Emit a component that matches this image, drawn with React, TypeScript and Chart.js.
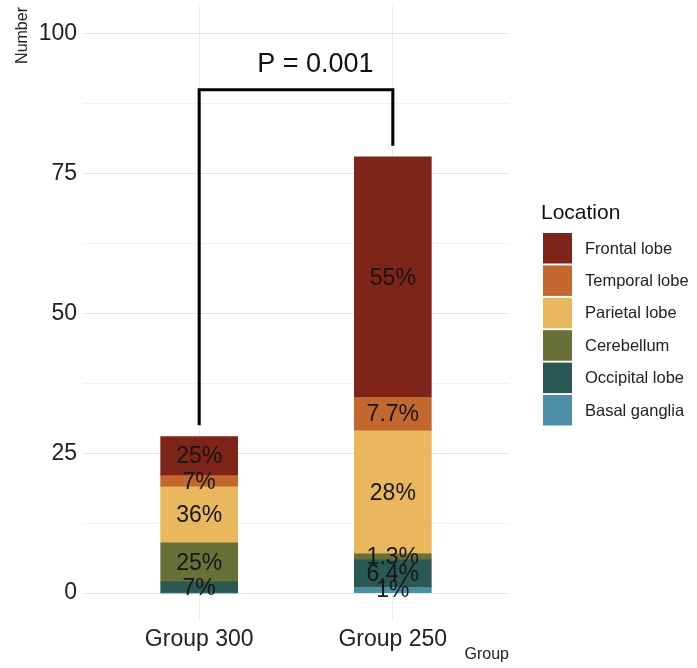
import React, { useEffect, useRef } from "react";
import { Chart, registerables } from "chart.js";

Chart.register(...registerables);

// Groups on the x axis (positions 1 and 2 on a linear scale)
const groups = ["Group 300", "Group 250"];
const groupPos = [1, 2];

// Lesion locations, listed top of the stack first
const locations = [
  "Frontal lobe",
  "Temporal lobe",
  "Parietal lobe",
  "Cerebellum",
  "Occipital lobe",
  "Basal ganglia",
];
const locationColors = ["#7e2418", "#c3672f", "#e9b75e", "#687038", "#2a5852", "#4b8ea6"];

// Counts per location: [Group 300, Group 250]
const frontal = [7, 43];
const temporal = [2, 6];
const parietal = [10, 22];
const cerebellum = [7, 1];
const occipital = [2, 5];
const basal = [0, 1];

// Percent labels per location: [Group 300, Group 250]
const frontalPct = ["25%", "55%"];
const temporalPct = ["7%", "7.7%"];
const parietalPct = ["36%", "28%"];
const cerebellumPct = ["25%", "1.3%"];
const occipitalPct = ["7%", "6.4%"];
const basalPct = ["", "1%"];

const yTicks = [0, 25, 50, 75, 100];
const yMinorTicks = [12.5, 37.5, 62.5, 87.5];

// Significance bracket
const bracketLeftY = 30;
const bracketTopY = 90;
const bracketRightY = 80;
const pLabel = "P = 0.001";

const FONT = "'Liberation Sans', Arial, sans-serif";

export default function App() {
  const canvasRef = useRef<HTMLCanvasElement | null>(null);

  useEffect(() => {
    document.body.style.margin = "0";
    const canvas = canvasRef.current;
    if (!canvas) return;

    const seriesCounts = [frontal, temporal, parietal, cerebellum, occipital, basal];
    const seriesPct = [frontalPct, temporalPct, parietalPct, cerebellumPct, occipitalPct, basalPct];

    // Stack order: bottom = Basal ganglia ... top = Frontal lobe
    const order = [5, 4, 3, 2, 1, 0];
    const datasets = order.map((i) => ({
      label: locations[i],
      data: groupPos.map((x, g) => ({ x, y: seriesCounts[i][g] })),
      backgroundColor: locationColors[i],
      borderWidth: 0,
      barThickness: 77,
      pctLabels: seriesPct[i],
    }));

    const overlay = {
      id: "overlay",
      afterDatasetsDraw(chart: any) {
        const ctx = chart.ctx;
        const xs = chart.scales.x;
        const ys = chart.scales.y;

        // Percent labels centred in each segment
        ctx.save();
        ctx.font = `23px ${FONT}`;
        ctx.fillStyle = "#161616";
        ctx.textAlign = "center";
        ctx.textBaseline = "middle";
        chart.data.datasets.forEach((ds: any, di: number) => {
          const meta = chart.getDatasetMeta(di);
          meta.data.forEach((bar: any, gi: number) => {
            const lbl = ds.pctLabels[gi];
            if (!lbl) return;
            const cy = (bar.y + bar.base) / 2;
            ctx.fillText(lbl, bar.x, cy + 1);
          });
        });
        ctx.restore();

        // Bracket
        const x1 = xs.getPixelForValue(groupPos[0]);
        const x2 = xs.getPixelForValue(groupPos[1]);
        ctx.save();
        ctx.strokeStyle = "#000";
        ctx.lineWidth = 3;
        ctx.lineJoin = "miter";
        ctx.beginPath();
        ctx.moveTo(x1, ys.getPixelForValue(bracketLeftY));
        ctx.lineTo(x1, ys.getPixelForValue(bracketTopY));
        ctx.lineTo(x2, ys.getPixelForValue(bracketTopY));
        ctx.lineTo(x2, ys.getPixelForValue(bracketRightY));
        ctx.stroke();

        ctx.font = `27px ${FONT}`;
        ctx.fillStyle = "#111";
        ctx.textAlign = "center";
        ctx.textBaseline = "middle";
        ctx.fillText(pLabel, xs.getPixelForValue(1.6), ys.getPixelForValue(94.5));
        ctx.restore();
      },
      afterDraw(chart: any) {
        const ctx = chart.ctx;
        const area = chart.chartArea;
        ctx.save();
        // Axis titles
        ctx.fillStyle = "#222";
        ctx.font = `16px ${FONT}`;
        ctx.textAlign = "right";
        ctx.textBaseline = "middle";
        ctx.fillText("Group", area.right, 655);
        ctx.save();
        ctx.translate(23, 7);
        ctx.rotate(-Math.PI / 2);
        ctx.textAlign = "right";
        ctx.textBaseline = "middle";
        ctx.fillText("Number", 0, 0);
        ctx.restore();

        // Legend
        const lx = 543;
        ctx.fillStyle = "#111";
        ctx.font = `21px ${FONT}`;
        ctx.textAlign = "left";
        ctx.textBaseline = "middle";
        ctx.fillText("Location", 541, 213);
        ctx.font = `16.5px ${FONT}`;
        locations.forEach((name, i) => {
          const top = 233 + i * 32.4;
          ctx.fillStyle = locationColors[i];
          ctx.fillRect(lx, top, 29, 30.5);
          ctx.fillStyle = "#222";
          ctx.fillText(name, 585, top + 16);
        });
        ctx.restore();
      },
    };

    const chart = new Chart(canvas, {
      type: "bar",
      data: { datasets } as any,
      options: {
        animation: false,
        responsive: false,
        maintainAspectRatio: false,
        layout: { padding: { left: 0, right: 697 - 509, top: 6, bottom: 0 } },
        plugins: {
          legend: { display: false },
          tooltip: { enabled: false },
        },
        scales: {
          x: {
            type: "linear",
            stacked: true,
            offset: false,
            min: 0.4,
            max: 2.6,
            border: { display: false },
            grid: { color: "#ebebeb", lineWidth: 1, drawTicks: false, offset: false },
            afterBuildTicks: (scale: any) => {
              scale.ticks = groupPos.map((v) => ({ value: v }));
            },
            afterFit: (scale: any) => {
              scale.height = 47;
              scale.paddingLeft = 0;
              scale.paddingRight = 0;
            },
            ticks: {
              padding: 5,
              color: "#222",
              font: { family: FONT, size: 23 },
              callback: (v: any) => {
                const idx = groupPos.indexOf(Number(v));
                return idx >= 0 ? groups[idx] : "";
              },
            },
          },
          y: {
            type: "linear",
            stacked: true,
            min: -5,
            max: 105,
            border: { display: false },
            grid: {
              drawTicks: false,
              lineWidth: 1,
              color: (c: any) =>
                yMinorTicks.includes(c.tick?.value) ? "#f2f2f2" : "#e6e6e6",
            },
            afterBuildTicks: (scale: any) => {
              scale.ticks = [...yTicks, ...yMinorTicks]
                .sort((a, b) => a - b)
                .map((v) => ({ value: v }));
            },
            afterFit: (scale: any) => {
              scale.width = 83;
              scale.paddingTop = 0;
              scale.paddingBottom = 0;
            },
            ticks: {
              padding: 6,
              color: "#222",
              font: { family: FONT, size: 23 },
              callback: (v: any) => (yTicks.includes(Number(v)) ? String(v) : ""),
            },
          },
        },
      } as any,
      plugins: [overlay],
    });

    return () => chart.destroy();
  }, []);

  return (
    <div style={{ width: 697, height: 668, background: "#fff" }}>
      <canvas ref={canvasRef} width={697} height={668} style={{ display: "block" }} />
    </div>
  );
}
